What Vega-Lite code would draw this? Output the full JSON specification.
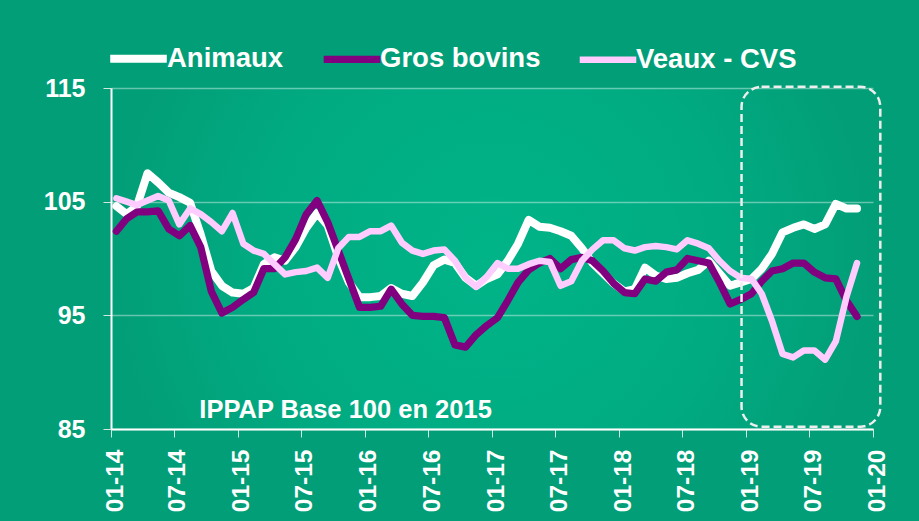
{
  "$schema": "https://vega.github.io/schema/vega-lite/v6.json",
  "width": 762,
  "height": 341,
  "autosize": "none",
  "padding": {"left": 111, "top": 88, "right": 46, "bottom": 92},
  "background": "#029e77",
  "config": {
    "view": {"stroke": null, "fill": {"gradient": "radial", "stops": [{"offset": 0, "color": "#00b488"}, {"offset": 0.6, "color": "#01ab82"}, {"offset": 1, "color": "#029e77"}]}},
    "font": "Liberation Sans"
  },
  "datasets": {
    "series": [
      {"d": "2014-01", "Animaux": 104.6, "Gros bovins": 102.4, "Veaux - CVS": 105.3},
      {"d": "2014-02", "Animaux": 103.9, "Gros bovins": 103.5, "Veaux - CVS": 105.0},
      {"d": "2014-03", "Animaux": 104.6, "Gros bovins": 104.1, "Veaux - CVS": 104.7},
      {"d": "2014-04", "Animaux": 107.5, "Gros bovins": 104.1, "Veaux - CVS": 105.1},
      {"d": "2014-05", "Animaux": 106.7, "Gros bovins": 104.2, "Veaux - CVS": 105.5},
      {"d": "2014-06", "Animaux": 105.8, "Gros bovins": 102.6, "Veaux - CVS": 105.1},
      {"d": "2014-07", "Animaux": 105.4, "Gros bovins": 102.0, "Veaux - CVS": 103.0},
      {"d": "2014-08", "Animaux": 104.9, "Gros bovins": 102.9, "Veaux - CVS": 104.4},
      {"d": "2014-09", "Animaux": 102.1, "Gros bovins": 101.0, "Veaux - CVS": 103.9},
      {"d": "2014-10", "Animaux": 98.9, "Gros bovins": 97.1, "Veaux - CVS": 103.2},
      {"d": "2014-11", "Animaux": 97.6, "Gros bovins": 95.2, "Veaux - CVS": 102.4},
      {"d": "2014-12", "Animaux": 97.0, "Gros bovins": 95.7, "Veaux - CVS": 104.0},
      {"d": "2015-01", "Animaux": 96.9, "Gros bovins": 96.4, "Veaux - CVS": 101.3},
      {"d": "2015-02", "Animaux": 97.4, "Gros bovins": 97.0, "Veaux - CVS": 100.7},
      {"d": "2015-03", "Animaux": 99.5, "Gros bovins": 99.1, "Veaux - CVS": 100.4},
      {"d": "2015-04", "Animaux": 100.1, "Gros bovins": 99.1, "Veaux - CVS": 99.5},
      {"d": "2015-05", "Animaux": 99.8, "Gros bovins": 100.1, "Veaux - CVS": 98.6},
      {"d": "2015-06", "Animaux": 101.0, "Gros bovins": 101.7, "Veaux - CVS": 98.8},
      {"d": "2015-07", "Animaux": 102.7, "Gros bovins": 103.9, "Veaux - CVS": 98.9},
      {"d": "2015-08", "Animaux": 104.0, "Gros bovins": 105.1, "Veaux - CVS": 99.2},
      {"d": "2015-09", "Animaux": 102.9, "Gros bovins": 103.2, "Veaux - CVS": 98.3},
      {"d": "2015-10", "Animaux": 100.1, "Gros bovins": 100.7, "Veaux - CVS": 100.9},
      {"d": "2015-11", "Animaux": 97.9, "Gros bovins": 98.2, "Veaux - CVS": 101.9},
      {"d": "2015-12", "Animaux": 96.6, "Gros bovins": 95.7, "Veaux - CVS": 101.9},
      {"d": "2016-01", "Animaux": 96.6, "Gros bovins": 95.7, "Veaux - CVS": 102.4},
      {"d": "2016-02", "Animaux": 96.7, "Gros bovins": 95.8, "Veaux - CVS": 102.4},
      {"d": "2016-03", "Animaux": 97.4, "Gros bovins": 97.3, "Veaux - CVS": 102.9},
      {"d": "2016-04", "Animaux": 96.9, "Gros bovins": 96.0, "Veaux - CVS": 101.4},
      {"d": "2016-05", "Animaux": 96.7, "Gros bovins": 95.0, "Veaux - CVS": 100.7},
      {"d": "2016-06", "Animaux": 97.9, "Gros bovins": 94.9, "Veaux - CVS": 100.4},
      {"d": "2016-07", "Animaux": 99.4, "Gros bovins": 94.9, "Veaux - CVS": 100.7},
      {"d": "2016-08", "Animaux": 99.9, "Gros bovins": 94.8, "Veaux - CVS": 100.8},
      {"d": "2016-09", "Animaux": 99.6, "Gros bovins": 92.4, "Veaux - CVS": 99.8},
      {"d": "2016-10", "Animaux": 98.3, "Gros bovins": 92.2, "Veaux - CVS": 98.3},
      {"d": "2016-11", "Animaux": 97.6, "Gros bovins": 93.3, "Veaux - CVS": 97.5},
      {"d": "2016-12", "Animaux": 98.2, "Gros bovins": 94.1, "Veaux - CVS": 98.4},
      {"d": "2017-01", "Animaux": 98.6, "Gros bovins": 94.8, "Veaux - CVS": 99.6},
      {"d": "2017-02", "Animaux": 99.8, "Gros bovins": 96.3, "Veaux - CVS": 99.1},
      {"d": "2017-03", "Animaux": 101.3, "Gros bovins": 97.9, "Veaux - CVS": 99.1},
      {"d": "2017-04", "Animaux": 103.4, "Gros bovins": 99.0, "Veaux - CVS": 99.5},
      {"d": "2017-05", "Animaux": 102.8, "Gros bovins": 99.6, "Veaux - CVS": 99.8},
      {"d": "2017-06", "Animaux": 102.7, "Gros bovins": 100.0, "Veaux - CVS": 99.7},
      {"d": "2017-07", "Animaux": 102.4, "Gros bovins": 99.1, "Veaux - CVS": 97.6},
      {"d": "2017-08", "Animaux": 102.0, "Gros bovins": 99.9, "Veaux - CVS": 98.0},
      {"d": "2017-09", "Animaux": 100.9, "Gros bovins": 100.1, "Veaux - CVS": 99.8},
      {"d": "2017-10", "Animaux": 99.6, "Gros bovins": 99.8, "Veaux - CVS": 100.8},
      {"d": "2017-11", "Animaux": 98.7, "Gros bovins": 98.9, "Veaux - CVS": 101.6},
      {"d": "2017-12", "Animaux": 97.8, "Gros bovins": 97.8, "Veaux - CVS": 101.6},
      {"d": "2018-01", "Animaux": 97.1, "Gros bovins": 97.0, "Veaux - CVS": 100.9},
      {"d": "2018-02", "Animaux": 97.3, "Gros bovins": 96.9, "Veaux - CVS": 100.7},
      {"d": "2018-03", "Animaux": 99.2, "Gros bovins": 98.2, "Veaux - CVS": 101.0},
      {"d": "2018-04", "Animaux": 98.5, "Gros bovins": 98.0, "Veaux - CVS": 101.1},
      {"d": "2018-05", "Animaux": 98.2, "Gros bovins": 98.8, "Veaux - CVS": 101.0},
      {"d": "2018-06", "Animaux": 98.3, "Gros bovins": 99.0, "Veaux - CVS": 100.8},
      {"d": "2018-07", "Animaux": 98.7, "Gros bovins": 100.0, "Veaux - CVS": 101.6},
      {"d": "2018-08", "Animaux": 99.0, "Gros bovins": 99.8, "Veaux - CVS": 101.3},
      {"d": "2018-09", "Animaux": 99.8, "Gros bovins": 99.6, "Veaux - CVS": 100.9},
      {"d": "2018-10", "Animaux": 98.7, "Gros bovins": 97.9, "Veaux - CVS": 99.8},
      {"d": "2018-11", "Animaux": 97.6, "Gros bovins": 96.0, "Veaux - CVS": 98.9},
      {"d": "2018-12", "Animaux": 97.9, "Gros bovins": 96.4, "Veaux - CVS": 98.3},
      {"d": "2019-01", "Animaux": 98.2, "Gros bovins": 96.9, "Veaux - CVS": 98.2},
      {"d": "2019-02", "Animaux": 99.1, "Gros bovins": 98.0, "Veaux - CVS": 96.9},
      {"d": "2019-03", "Animaux": 100.4, "Gros bovins": 98.9, "Veaux - CVS": 94.5},
      {"d": "2019-04", "Animaux": 102.3, "Gros bovins": 99.1, "Veaux - CVS": 91.6},
      {"d": "2019-05", "Animaux": 102.7, "Gros bovins": 99.6, "Veaux - CVS": 91.3},
      {"d": "2019-06", "Animaux": 103.0, "Gros bovins": 99.6, "Veaux - CVS": 91.9},
      {"d": "2019-07", "Animaux": 102.6, "Gros bovins": 98.8, "Veaux - CVS": 91.9},
      {"d": "2019-08", "Animaux": 103.0, "Gros bovins": 98.3, "Veaux - CVS": 91.1},
      {"d": "2019-09", "Animaux": 104.8, "Gros bovins": 98.2, "Veaux - CVS": 92.7},
      {"d": "2019-10", "Animaux": 104.4, "Gros bovins": 96.3, "Veaux - CVS": 96.6},
      {"d": "2019-11", "Animaux": 104.4, "Gros bovins": 94.9, "Veaux - CVS": 99.6}
    ]
  },
  "layer": [
    {
      "data": {"name": "series"},
      "transform": [{"fold": ["Animaux", "Gros bovins", "Veaux - CVS"], "as": ["serie", "value"]}],
      "mark": {"type": "line", "strokeJoin": "round", "strokeCap": "round"},
      "encoding": {
        "x": {
          "field": "d", "type": "temporal", "timeUnit": "utcyearmonth", "bandPosition": 0.5,
          "scale": {"type": "utc", "domain": [{"year": 2014, "month": 1, "date": 1, "utc": true}, {"year": 2020, "month": 1, "date": 1, "utc": true}]},
          "axis": {
            "title": null,
            "values": [
              {"year": 2014, "month": 1, "date": 1, "utc": true},
              {"year": 2014, "month": 7, "date": 1, "utc": true},
              {"year": 2015, "month": 1, "date": 1, "utc": true},
              {"year": 2015, "month": 7, "date": 1, "utc": true},
              {"year": 2016, "month": 1, "date": 1, "utc": true},
              {"year": 2016, "month": 7, "date": 1, "utc": true},
              {"year": 2017, "month": 1, "date": 1, "utc": true},
              {"year": 2017, "month": 7, "date": 1, "utc": true},
              {"year": 2018, "month": 1, "date": 1, "utc": true},
              {"year": 2018, "month": 7, "date": 1, "utc": true},
              {"year": 2019, "month": 1, "date": 1, "utc": true},
              {"year": 2019, "month": 7, "date": 1, "utc": true},
              {"year": 2020, "month": 1, "date": 1, "utc": true}
            ],
            "labelExpr": "utcFormat(datum.value, '%m-%y')",
            "labelAngle": 270,
            "labelAlign": "right",
            "labelBaseline": "middle",
            "labelFontSize": 24.5,
            "labelFontWeight": "bold",
            "labelFont": "Liberation Sans",
            "labelColor": "white",
            "labelPadding": 12,
            "labelOffset": 4,
            "labelFlush": false,
            "labelOverlap": false,
            "tickSize": 8,
            "tickColor": "#cfe9df",
            "tickWidth": 1,
            "domainColor": "white",
            "domainWidth": 2,
            "grid": false
          }
        },
        "y": {
          "field": "value", "type": "quantitative",
          "scale": {"domain": [85, 115], "nice": false, "zero": false},
          "axis": {
            "title": null,
            "values": [85, 95, 105, 115],
            "labelFontSize": 25,
            "labelFontWeight": "bold",
            "labelFont": "Liberation Sans",
            "labelColor": "white",
            "labelPadding": 18,
            "tickSize": 8,
            "tickColor": "#cfe9df",
            "domainColor": "white",
            "domainWidth": 2,
            "grid": true,
            "gridColor": "white",
            "gridOpacity": 0.4,
            "gridWidth": 1.5
          }
        },
        "color": {
          "field": "serie", "type": "nominal",
          "scale": {"domain": ["Animaux", "Gros bovins", "Veaux - CVS"], "range": ["#ffffff", "#800080", "#ffccff"]},
          "legend": {
            "title": null,
            "orient": "none",
            "legendX": -5,
            "legendY": -62,
            "padding": 0,
            "direction": "horizontal",
            "symbolType": "stroke",
            "symbolSize": 3200,
            "symbolStrokeWidth": 8,
            "labelFontSize": 27.5,
            "labelFontWeight": "bold",
            "labelFont": "Liberation Sans",
            "labelColor": "white",
            "labelOffset": -4,
            "columnPadding": 25,
            "labelLimit": 400
          }
        },
        "strokeWidth": {
          "field": "serie", "type": "nominal",
          "scale": {"domain": ["Animaux", "Gros bovins", "Veaux - CVS"], "range": [8, 6.5, 4.5]},
          "legend": null
        }
      }
    },
    {
      "data": {"values": [{"x1": "2018-12-19", "x2": "2020-01-22", "y1": 115.1, "y2": 85.2}]},
      "mark": {"type": "rect", "fill": null, "fillOpacity": 0, "stroke": "#eeeeee", "strokeWidth": 2.5, "strokeDash": [8, 4], "cornerRadius": 20},
      "encoding": {
        "x": {"field": "x1", "type": "temporal"},
        "x2": {"field": "x2"},
        "y": {"field": "y1", "type": "quantitative"},
        "y2": {"field": "y2"}
      }
    },
    {
      "data": {"values": [{"tx": "2014-09-12", "ty": 86.0, "label": "IPPAP Base 100 en 2015"}]},
      "mark": {"type": "text", "align": "left", "baseline": "alphabetic", "fontSize": 25.5, "fontWeight": "bold", "color": "white", "font": "Liberation Sans"},
      "encoding": {
        "x": {"field": "tx", "type": "temporal"},
        "y": {"field": "ty", "type": "quantitative"},
        "text": {"field": "label"}
      }
    }
  ]
}
